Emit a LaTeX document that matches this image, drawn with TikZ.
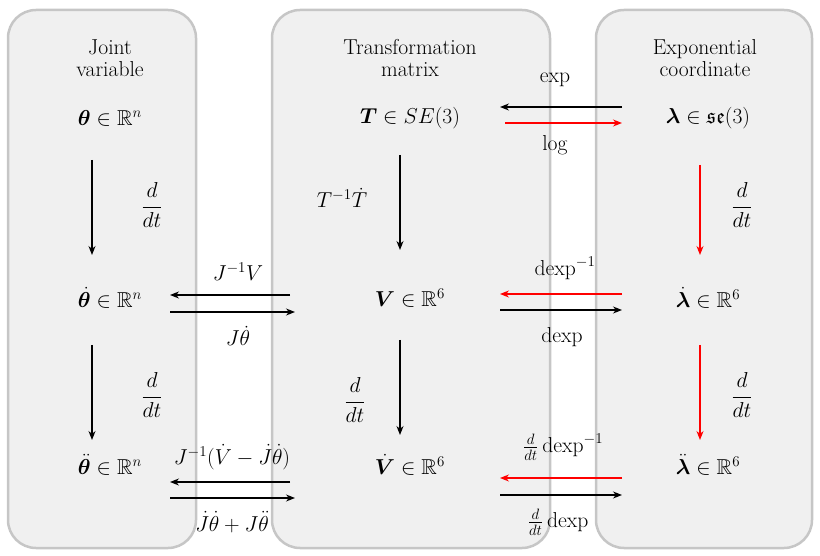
\documentclass[tikz,border=0pt]{standalone}
\usepackage{amsmath,amssymb,bm}
\usetikzlibrary{arrows.meta,positioning}
\newcommand{\bx}[1]{\scalebox{1.25}{#1}}
\tikzset{
  panel/.style={draw=gray!45,line width=2.5pt,fill=gray!12,rounded corners=28pt},
  lbl/.style={inner sep=1pt,font=\LARGE},
  arr/.style={-{Stealth[length=9pt,width=7pt]},line width=1.3pt},
  rarr/.style={arr,draw=red},
}
\begin{document}
\begin{tikzpicture}[x=1pt,y=-1pt]
\useasboundingbox (0,0) rectangle (820,556);
% panels
\draw [panel] (8,10) rectangle (196,548);
\draw [panel] (272,10) rectangle (550,548);
\draw [panel] (596,10) rectangle (812,548);

% titles
\node [lbl] (tj) at (110,60) {\bx{\begin{tabular}{c}Joint\\[-5pt]variable\end{tabular}}};
\node [lbl] (tt) at (410,60) {\bx{\begin{tabular}{c}Transformation\\[-5pt]matrix\end{tabular}}};
\node [lbl] (te) at (705,60) {\bx{\begin{tabular}{c}Exponential\\[-5pt]coordinate\end{tabular}}};

% spaces
\node [lbl] (th) at (110,118) {\bx{$\bm{\theta}\in\mathbb{R}^n$}};
\node [lbl] (thd) at (110,298) {\bx{$\dot{\bm{\theta}}\in\mathbb{R}^n$}};
\node [lbl] (thdd) at (110,465) {\bx{$\ddot{\bm{\theta}}\in\mathbb{R}^n$}};
\node [lbl] (T) at (410,118) {\bx{$\bm{T}\in SE(3)$}};
\node [lbl] (V) at (410,298) {\bx{$\bm{V}\in\mathbb{R}^6$}};
\node [lbl] (Vd) at (410,465) {\bx{$\dot{\bm{V}}\in\mathbb{R}^6$}};
\node [lbl] (la) at (708,118) {\bx{$\bm{\lambda}\in\mathfrak{se}(3)$}};
\node [lbl] (lad) at (708,298) {\bx{$\dot{\bm{\lambda}}\in\mathbb{R}^6$}};
\node [lbl] (ladd) at (708,465) {\bx{$\ddot{\bm{\lambda}}\in\mathbb{R}^6$}};

% vertical arrows
\draw [arr] (92,160) -- (92,255);
\draw [arr] (92,345) -- (92,440);
\draw [arr] (400,155) -- (400,250);
\draw [arr] (400,340) -- (400,435);
\draw [rarr] (700,165) -- (700,255);
\draw [rarr] (700,345) -- (700,440);
\node [lbl] at (152,205) {\bx{$\dfrac{d}{dt}$}};
\node [lbl] at (152,395) {\bx{$\dfrac{d}{dt}$}};
\node [lbl] at (342,198) {\bx{$T^{-1}\dot{T}$}};
\node [lbl] at (355,400) {\bx{$\dfrac{d}{dt}$}};
\node [lbl] at (742,205) {\bx{$\dfrac{d}{dt}$}};
\node [lbl] at (742,395) {\bx{$\dfrac{d}{dt}$}};

% horizontal arrows
\draw [arr] (622,107) -- (500,107);
\draw [rarr] (505,123) -- (622,123);
\node [lbl] at (555,80) {\bx{$\exp$}};
\node [lbl] at (555,145) {\bx{$\log$}};

\draw [arr] (290,295) -- (170,295);
\draw [arr] (170,312) -- (295,312);
\node [lbl] at (238,272) {\bx{$J^{-1}V$}};
\node [lbl] at (238,336) {\bx{$J\dot\theta$}};

\draw [rarr] (622,294) -- (500,294);
\draw [arr] (500,310) -- (622,310);
\node [lbl] at (565,268) {\bx{$\operatorname{dexp}^{-1}$}};
\node [lbl] at (562,337) {\bx{$\operatorname{dexp}$}};

\draw [arr] (290,482) -- (170,482);
\draw [arr] (170,498) -- (295,498);
\node [lbl] at (232,457) {\bx{$J^{-1}(\dot V-\dot J\dot\theta)$}};
\node [lbl] at (232,522) {\bx{$\dot J\dot\theta+J\ddot\theta$}};

\draw [rarr] (622,478) -- (500,478);
\draw [arr] (500,495) -- (622,495);
\node [lbl] at (563,447) {\bx{$\tfrac{d}{dt}\operatorname{dexp}^{-1}$}};
\node [lbl] at (558,522) {\bx{$\tfrac{d}{dt}\operatorname{dexp}$}};
\end{tikzpicture}
\end{document}
